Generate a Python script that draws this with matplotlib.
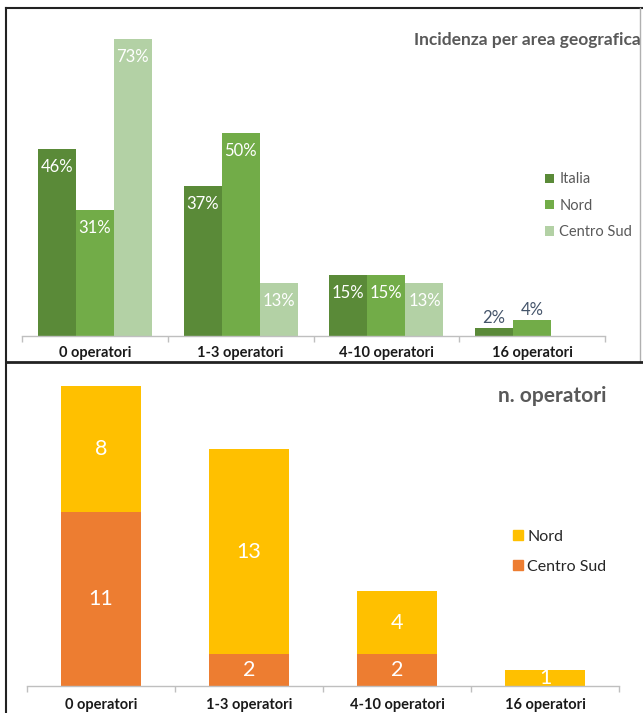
import numpy as np
import matplotlib
matplotlib.use("Agg")
import matplotlib.pyplot as plt
from matplotlib.lines import Line2D
from matplotlib.patches import Patch

plt.rcParams['font.family'] = ['Lato', 'DejaVu Sans']

categories = ['0 operatori', '1-3 operatori', '4-10 operatori', '16 operatori']

# share of respondents by area (%)
pct_italia = [46, 37, 15, 2]
pct_nord = [31, 50, 15, 4]
pct_centro_sud = [73, 13, 13, 0]

# head counts
n_nord = [8, 13, 4, 1]
n_centro_sud = [11, 2, 2, 0]

GREEN_DARK = '#5a8a38'
GREEN = '#72ac48'
GREEN_LIGHT = '#b3d1a5'
YELLOW = '#ffc000'
ORANGE = '#ed7d31'
GREY_TXT = '#595959'
AXIS_GREY = '#bfbfbf'

W, H = 643, 713
fig = plt.figure(figsize=(W / 100, H / 100), dpi=100)


def px_axes(x0, x1, y_base, y_top):
    # axes placed by pixel coordinates (y measured from the top)
    return fig.add_axes([x0 / W, (H - y_base) / H, (x1 - x0) / W, (y_base - y_top) / H])


def style_axis(ax, n, label_pad):
    for s in ['top', 'right', 'left']:
        ax.spines[s].set_visible(False)
    ax.spines['bottom'].set_color(AXIS_GREY)
    ax.spines['bottom'].set_linewidth(1.0)
    ax.set_yticks([])
    ax.set_xlim(-0.5, n - 0.5)
    ax.set_xticks(np.arange(n))
    ax.set_xticklabels(categories, fontweight='bold', fontsize=10.5, color='#1a1a1a')
    ax.tick_params(axis='x', which='major', length=0, pad=label_pad)
    ax.set_xticks(np.arange(n + 1) - 0.5, minor=True)
    ax.tick_params(axis='x', which='minor', length=4, color=AXIS_GREY, width=1)


# --- top chart: incidence by area ---
ax1 = px_axes(22, 605, 336, 11)
x = np.arange(len(categories))
bw = 0.261
series = [(pct_italia, GREEN_DARK, 'Italia'),
          (pct_nord, GREEN, 'Nord'),
          (pct_centro_sud, GREEN_LIGHT, 'Centro Sud')]
for i, (vals, col, name) in enumerate(series):
    pos = x + (i - 1) * bw
    ax1.bar(pos, vals, width=bw, color=col, label=name)
    for xp, v in zip(pos, vals):
        if v == 0:
            continue
        if v < 5:
            ax1.annotate(f'{v}%', (xp, v), xytext=(0, 10), textcoords='offset pixels',
                         ha='center', va='center', color='#44546a', fontsize=12)
        else:
            ax1.annotate(f'{v}%', (xp, v), xytext=(0, -18), textcoords='offset pixels',
                         ha='center', va='center', color='white', fontsize=12)
ax1.set_ylim(0, 80)
style_axis(ax1, len(categories), 7)
ax1.legend(loc='upper left', bbox_to_anchor=(538 / W, (H - 165) / H),
           bbox_transform=fig.transFigure, frameon=False, fontsize=10.5,
           handlelength=0.6, handleheight=0.6, handletextpad=0.35,
           labelspacing=0.85, labelcolor=GREY_TXT, borderpad=0)
fig.text(641 / W, (H - 40) / H, 'Incidenza per area geografica', ha='right', va='center',
         fontsize=12.5, fontweight='bold', color=GREY_TXT)

# --- bottom chart: number of operators, stacked ---
ax2 = px_axes(27, 619, 686, 370)
bw2 = 0.547
ax2.bar(x, n_centro_sud, width=bw2, color=ORANGE)
ax2.bar(x, n_nord, width=bw2, bottom=n_centro_sud, color=YELLOW)
for xp, cs, nd in zip(x, n_centro_sud, n_nord):
    if cs:
        ax2.text(xp, cs / 2, str(cs), ha='center', va='center', color='white', fontsize=15.5)
    if nd:
        ax2.text(xp, cs + nd / 2, str(nd), ha='center', va='center', color='white', fontsize=15.5)
ax2.set_ylim(0, 20)
style_axis(ax2, len(categories), 9)
ax2.legend(handles=[Patch(color=YELLOW, label='Nord'), Patch(color=ORANGE, label='Centro Sud')],
           loc='upper left', bbox_to_anchor=(505 / W, (H - 522) / H),
           bbox_transform=fig.transFigure, frameon=False, fontsize=11.5,
           handlelength=0.6, handleheight=0.6, handletextpad=0.3,
           labelspacing=1.0, labelcolor='#262626', borderpad=0)
fig.text(606 / W, (H - 396) / H, 'n. operatori', ha='right', va='center',
         fontsize=15, fontweight='bold', color=GREY_TXT)

# panel frames
def fline(xs, ys, color='#222222', lw=1.5):
    fig.add_artist(Line2D([v / W for v in xs], [(H - v) / H for v in ys],
                          transform=fig.transFigure, color=color, lw=lw))

fline([6, 643], [8, 8])
fline([6, 6], [8, 713])
fline([640, 640], [8, 362], color='#b0b0b0', lw=1)
fline([6, 643], [362, 362], lw=2)

fig.savefig('out.png', dpi=100, facecolor='white')
